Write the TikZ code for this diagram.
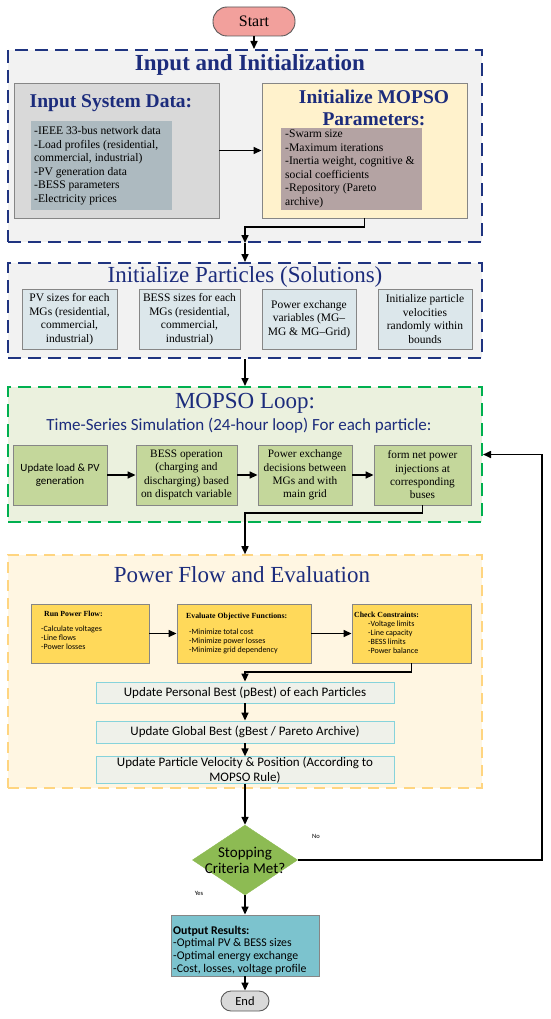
\documentclass[tikz,border=0pt]{standalone}
\usepackage{fontspec}
\setmainfont{Liberation Serif}
\newfontfamily\calfont{Carlito}
\usetikzlibrary{shapes.geometric,arrows.meta}
\newcommand\fsz[2]{\fontsize{#1}{#2}\selectfont}
\definecolor{navy}{HTML}{1C2C7C}
\definecolor{framenavy}{HTML}{1F3480}
\definecolor{greyA}{HTML}{F2F2F2}
\definecolor{isdfill}{HTML}{D9D9D9}
\definecolor{isdinner}{HTML}{ADBAC0}
\definecolor{mopfill}{HTML}{FFF2CC}
\definecolor{mopinner}{HTML}{B4A3A3}
\definecolor{partfill}{HTML}{DCE7EB}
\definecolor{boxdraw}{HTML}{868686}
\definecolor{greenframe}{HTML}{00B050}
\definecolor{greenback}{HTML}{EBF1DE}
\definecolor{greenbox}{HTML}{C4D79B}
\definecolor{orangeframe}{HTML}{FFD580}
\definecolor{orangeback}{HTML}{FFF6E2}
\definecolor{yellowbox}{HTML}{FFD95A}
\definecolor{cyanline}{HTML}{86D3DB}
\definecolor{lightbox}{HTML}{EFF1EA}
\definecolor{diafill}{HTML}{8DBB53}
\definecolor{outfill}{HTML}{7CC3CE}
\definecolor{startfill}{HTML}{F2A09C}
\definecolor{endfill}{HTML}{D9D9D9}
\tikzset{
  arr/.style={-{Triangle[length=8pt,width=7pt]}, line width=1.6pt, black},
  frame/.style={rectangle, inner sep=0pt, line width=2pt, dash pattern=on 13pt off 7pt},
  plainbox/.style={rectangle, inner sep=0pt, line width=0.9pt, draw=boxdraw, align=center},
  lbl/.style={inner sep=0pt, align=left},
  titletxt/.style={inner sep=0pt, text=navy, anchor=base},
  serifsmall/.style={font=\fsz{11.5}{13.5}},
}
\begin{document}
\begin{tikzpicture}[x=1pt,y=-1pt]
\useasboundingbox (0,0) rectangle (550,1019);

% ---------- Start ----------
\node[rectangle, rounded corners=14pt, fill=startfill, draw=black!65, line width=0.9pt,
      minimum width=82pt, minimum height=29pt, inner sep=0pt, font=\fsz{16}{18}] (start) at (254,21.5) {Start};

% ---------- Input and Initialization ----------
\node[frame, draw=framenavy, fill=greyA, minimum width=474pt, minimum height=192pt] (in1) at (245,146) {};
\node[titletxt, font=\bfseries\fsz{23}{27}] (t1) at (250,70.7) {Input and Initialization};

\node[plainbox, fill=isdfill, minimum width=205pt, minimum height=135pt] (isd) at (116.5,150.5) {};
\node[titletxt, font=\bfseries\fsz{19.5}{22}] (isdt) at (111,107.3) {Input System Data:};
\node[rectangle, inner sep=0pt, fill=isdinner, minimum width=141pt, minimum height=89pt] (isdin) at (101.5,165.5) {};
\node[lbl, font=\fsz{11.6}{13.5}, anchor=west] (isdtx) at (34,165.5)
  {-IEEE 33-bus network data\\-Load profiles (residential,\\commercial, industrial)\\-PV generation data\\-BESS parameters\\-Electricity prices};

\node[plainbox, fill=mopfill, minimum width=205pt, minimum height=135pt] (mop) at (364.5,150.5) {};
\node[inner sep=0pt, text=navy, align=center, font=\bfseries\fsz{19.5}{22.3}] (mopt) at (374,108) {Initialize MOPSO\\Parameters:};
\node[rectangle, inner sep=0pt, fill=mopinner, minimum width=141pt, minimum height=82pt] (mopin) at (351.5,169) {};
\node[lbl, font=\fsz{11.6}{13.5}, anchor=west] (moptx) at (285,169)
  {-Swarm size\\-Maximum iterations\\-Inertia weight, cognitive \&\\social coefficients\\-Repository (Pareto\\archive)};

% ---------- Initialize Particles ----------
\node[frame, draw=framenavy, fill=greyA, minimum width=474pt, minimum height=95pt] (in2) at (245,310.5) {};
\node[titletxt, font=\fsz{23}{27}] (t2) at (245,282.3) {Initialize Particles (Solutions)};
\node[plainbox, serifsmall, fill=partfill, minimum width=95pt, minimum height=60pt] (p1) at (69.5,319) {PV sizes for each\\MGs (residential,\\commercial,\\industrial)};
\node[plainbox, serifsmall, fill=partfill, minimum width=101pt, minimum height=60pt] (p2) at (189.5,319) {BESS sizes for each\\MGs (residential,\\commercial,\\industrial)};
\node[plainbox, serifsmall, fill=partfill, minimum width=94pt, minimum height=60pt] (p3) at (309,319) {Power exchange\\variables (MG--\\MG \& MG--Grid)};
\node[plainbox, serifsmall, fill=partfill, minimum width=94pt, minimum height=60pt] (p4) at (425,319) {Initialize particle\\velocities\\randomly within\\bounds};

% ---------- MOPSO Loop ----------
\node[frame, draw=greenframe, fill=greenback, minimum width=474pt, minimum height=135pt] (in3) at (245,454.5) {};
\node[titletxt, font=\fsz{23}{27}] (t3) at (245,408.3) {MOPSO Loop:};
\node[titletxt, font=\calfont\fsz{17}{20}] (t3b) at (239,430) {Time-Series Simulation (24-hour loop) For each particle:};
\node[plainbox, fill=greenbox, minimum width=94pt, minimum height=60pt, font=\calfont\fsz{11}{13.3}] (g1) at (60,475) {Update load \& PV\\generation};
\node[plainbox, fill=greenbox, minimum width=101pt, minimum height=60pt, font=\fsz{11.3}{13.3}] (g2) at (186.5,475) {BESS operation\\(charging and\\discharging) based\\on dispatch variable};
\node[plainbox, fill=greenbox, minimum width=94pt, minimum height=60pt, font=\fsz{11.3}{13.3}] (g3) at (305,475) {Power exchange\\decisions between\\MGs and with\\main grid};
\node[plainbox, fill=greenbox, minimum width=97pt, minimum height=60pt, font=\fsz{11.3}{13.3}] (g4) at (422.5,475) {form net power\\injections at\\corresponding\\buses};

% ---------- Power Flow and Evaluation ----------
\node[frame, draw=orangeframe, fill=orangeback, line width=1.6pt, dash pattern=on 11pt off 7pt, minimum width=474pt, minimum height=233pt] (in4) at (245,671.5) {};
\node[titletxt, font=\fsz{23}{27}] (t4) at (242,582.7) {Power Flow and Evaluation};

\node[plainbox, fill=yellowbox, minimum width=118pt, minimum height=59pt] (y1) at (90,633.5) {};
\node[lbl, anchor=west, font=\bfseries\fsz{7.8}{9}] (y1t) at (44,614) {Run Power Flow:};
\node[lbl, anchor=west, font=\calfont\fsz{8}{9}] (y1b) at (41,638) {-Calculate voltages\\-Line flows\\-Power losses};

\node[plainbox, fill=yellowbox, minimum width=134pt, minimum height=59pt] (y2) at (244,633.5) {};
\node[lbl, anchor=west, font=\bfseries\fsz{7.8}{9}] (y2t) at (186,617) {Evaluate Objective Functions:};
\node[lbl, anchor=west, font=\calfont\fsz{8}{9}] (y2b) at (189,641) {-Minimize total cost\\-Minimize power losses\\-Minimize grid dependency};

\node[plainbox, fill=yellowbox, minimum width=119pt, minimum height=59pt] (y3) at (411.5,633.5) {};
\node[lbl, anchor=west, font=\bfseries\fsz{7.8}{9}] (y3t) at (354,615) {Check Constraints:};
\node[lbl, anchor=west, font=\calfont\fsz{8}{9}] (y3b) at (368,637.5) {-Voltage limits\\-Line capacity\\-BESS limits\\-Power balance};

\node[plainbox, draw=cyanline, fill=lightbox, minimum width=298pt, minimum height=21pt, font=\calfont\fsz{13}{15}] (pb) at (245,692.5) {Update Personal Best (pBest) of each Particles};
\node[plainbox, draw=cyanline, fill=lightbox, minimum width=298pt, minimum height=22pt, font=\calfont\fsz{13}{15}] (gb) at (245,732) {Update Global Best (gBest / Pareto Archive)};
\node[plainbox, draw=cyanline, fill=lightbox, minimum width=298pt, minimum height=26pt, font=\calfont\fsz{13}{15}] (vel) at (245,770) {Update Particle Velocity \& Position (According to\\MOPSO Rule)};

% ---------- Decision and output ----------
\node[diamond, fill=diafill, draw=diafill, inner sep=0pt, minimum width=105pt, minimum height=70pt] (dia) at (245,860) {};
\node[inner sep=0pt, align=center, font=\calfont\fsz{15}{15.5}] (diat) at (245,860.5) {Stopping\\Criteria Met?};
\node[inner sep=0pt, font=\calfont\fsz{6.5}{8}] (no) at (316,836) {No};
\node[inner sep=0pt, font=\calfont\fsz{6.5}{8}] (yes) at (199,893) {Yes};

\node[plainbox, fill=outfill, minimum width=148pt, minimum height=61pt] (out) at (245,945.5) {};
\node[lbl, anchor=west, font=\calfont\fsz{11.8}{12.7}] (outt) at (173,950) {\textbf{Output Results:}\\-Optimal PV \& BESS sizes\\-Optimal energy exchange\\-Cost, losses, voltage profile};

\node[rectangle, rounded corners=10pt, fill=endfill, draw=black!65, line width=0.9pt,
      minimum width=48pt, minimum height=20pt, inner sep=0pt, font=\calfont\fsz{12.5}{14}] (end) at (245,1001) {End};

% ---------- Connectors ----------
\coordinate (c1) at (364.5,227);
\coordinate (c2) at (422.5,513);
\coordinate (c3) at (411.5,672);
\coordinate (c4) at (542,860);
\draw[arr] (start.south) -- (start.south |- in1.north);
\draw[arr] (isd.east) -- (mop.west);
\draw[arr] (mop.south) -- (c1) -| (in1.south);
\draw[arr] (in1.south) -- (in2.north);
\draw[arr] (in2.south) -- (in3.north);
\draw[arr] (g1.east) -- (g2.west);
\draw[arr] (g2.east) -- (g3.west);
\draw[arr] (g3.east) -- (g4.west);
\draw[arr] (g4.south) -- (c2) -| (in4.north);
\draw[arr] (y1.east) -- (y2.west);
\draw[arr] (y2.east) -- (y3.west);
\draw[arr] (y3.south) -- (c3) -| (pb.north);
\draw[arr] (pb.south) -- (gb.north);
\draw[arr] (gb.south) -- (vel.north);
\draw[arr] (vel.south) -- (dia.north);
\draw[arr] (dia.south) -- (out.north);
\draw[arr] (out.south) -- (end.north);
\draw[arr] (dia.east) -- (c4) |- (in3.east);
\end{tikzpicture}
\end{document}
